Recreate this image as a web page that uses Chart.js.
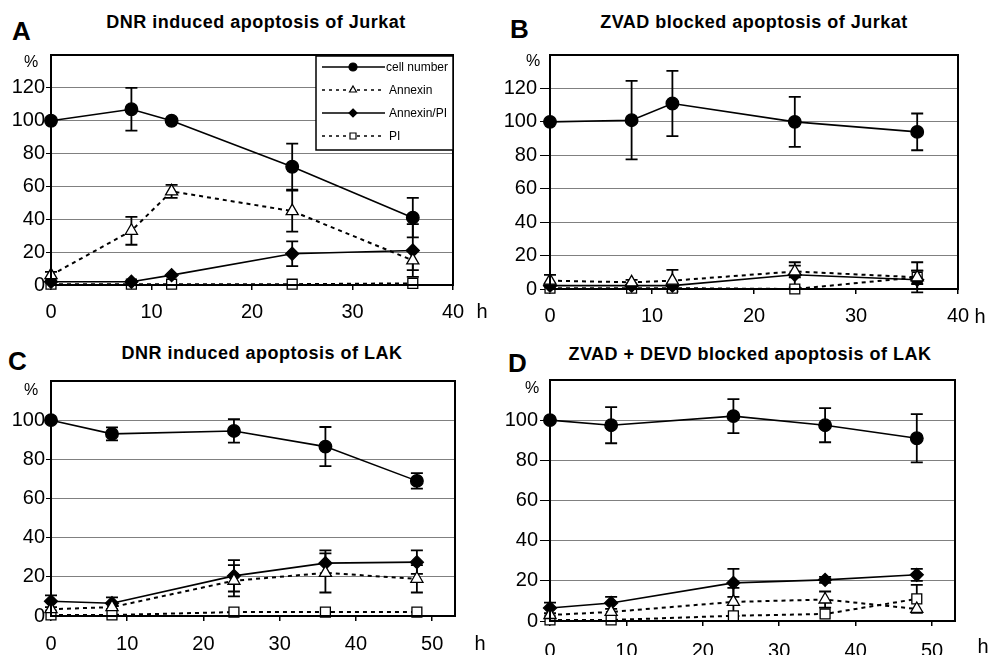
<!DOCTYPE html>
<html lang="en">
<head>
<meta charset="UTF-8">
<title>DNR induced apoptosis</title>
<script src="https://cdn.jsdelivr.net/npm/chart.js"></script>
<style>
  body { margin: 0; background: #fff; width: 989px; height: 655px; position: relative; overflow: hidden;
         font-family: "Liberation Sans", Arial, sans-serif; color: #000; }
  canvas { position: absolute; }
  .letter { position: absolute; font-weight: bold; font-size: 26px; line-height: 26px; }
  .title { position: absolute; width: 500px; text-align: center; font-weight: bold; font-size: 18px; line-height: 18px; letter-spacing: 0.5px; }
</style>
</head>
<body>
<div class="letter" style="left:12px;top:18px">A</div>
<div class="title" style="left:6px;top:13px">DNR induced apoptosis of Jurkat</div>
<div class="letter" style="left:510px;top:16px">B</div>
<div class="title" style="left:504px;top:13px">ZVAD blocked apoptosis of Jurkat</div>
<div class="letter" style="left:8px;top:348px">C</div>
<div class="title" style="left:12px;top:344px">DNR induced apoptosis of LAK</div>
<div class="letter" style="left:508px;top:350px">D</div>
<div class="title" style="left:500px;top:345px">ZVAD + DEVD blocked apoptosis of LAK</div>

<canvas id="chartA" width="490" height="330" style="left:0;top:0"></canvas>
<canvas id="chartB" width="499" height="330" style="left:490px;top:0"></canvas>
<canvas id="chartC" width="490" height="330" style="left:0;top:325px"></canvas>
<canvas id="chartD" width="499" height="330" style="left:490px;top:325px"></canvas>

<script>
// time points (h)
const hoursJurkat = [0, 8, 12, 24, 36];
const hoursLAK = [0, 8, 24, 36, 48];
const seriesNames = ['cell number', 'Annexin', 'Annexin/PI', 'PI'];

// tick labels
const xTicksJurkat = [0, 10, 20, 30, 40];
const xTicksLAK = [0, 10, 20, 30, 40, 50];
const yTicksJurkat = [0, 20, 40, 60, 80, 100, 120];
const yTicksLAK = [0, 20, 40, 60, 80, 100];

// A: DNR induced apoptosis of Jurkat
const aCell = [100, 107, 100, 72, 41];
const aCellErr = [0, 13, 0, 14, 12];
const aAnnexin = [6, 33, 57, 45, 15];
const aAnnexinErr = [2, 8.5, 4, 12.5, 6];
const aAnnexinPI = [2, 2, 6, 19, 21];
const aAnnexinPIErr = [0, 0, 0, 7.5, 16];
const aPI = [0.5, 0.5, 0.5, 0.5, 1];
const aPIErr = [0, 0, 0, 0, 0];

// B: ZVAD blocked apoptosis of Jurkat
const bCell = [100, 101, 111, 100, 94];
const bCellErr = [0, 23.5, 19.5, 15, 11];
const bAnnexin = [5, 4, 5, 10.5, 7];
const bAnnexinErr = [3.5, 1.5, 6.5, 3.5, 4];
const bAnnexinPI = [2, 2, 2, 8.5, 5.5];
const bAnnexinPIErr = [0, 0, 0, 7.5, 5.5];
const bPI = [0.5, 0.5, 0.5, 0, 7];
const bPIErr = [0, 0, 0, 0, 9];

// C: DNR induced apoptosis of LAK
const cCell = [100, 93, 94.5, 86.5, 69];
const cCellErr = [0, 3.3, 6, 10, 4];
const cAnnexin = [3.5, 4.5, 18, 22, 19];
const cAnnexinErr = [0, 0, 8, 10, 7];
const cAnnexinPI = [7.5, 6.5, 20.5, 27, 27.5];
const cAnnexinPIErr = [3, 3, 8, 6.5, 6];
const cPI = [0.5, 0.5, 2, 2, 2];
const cPIErr = [0, 0, 0, 0, 0];

// D: ZVAD + DEVD blocked apoptosis of LAK
const dCell = [100, 97.5, 102, 97.5, 91];
const dCellErr = [0, 9, 8.5, 8.5, 12];
const dAnnexin = [3, 4.5, 9.5, 10.7, 6];
const dAnnexinErr = [0, 0, 7, 4, 0];
const dAnnexinPI = [6.5, 9, 19, 20.5, 23];
const dAnnexinPIErr = [2.6, 3, 7, 1.5, 3];
const dPI = [0.5, 0.5, 2.6, 3.5, 11];
const dPIErr = [0, 0, 0, 0, 7];

const FONT = '"Liberation Sans", Arial, sans-serif';

// marker/line look of the 4 series
const seriesStyle = [
    { pointStyle: 'circle', radius: 6.3, fill: '#000', dash: [] },
    { pointStyle: 'triangle', radius: 7, fill: '#fff', dash: [4, 4] },
    { pointStyle: 'rectRot', radius: 6.5, fill: '#000', dash: [] },
    { pointStyle: 'rect', radius: 7, fill: '#fff', dash: [4, 4] }
];

function drawMarker(ctx, style, x, y, r, fill) {
    ctx.save();
    ctx.setLineDash([]);
    ctx.beginPath();
    if (style === 'circle') {
        ctx.arc(x, y, r, 0, Math.PI * 2);
    } else if (style === 'triangle') {
        ctx.moveTo(x, y - r);
        ctx.lineTo(x + r * 0.866, y + r * 0.5);
        ctx.lineTo(x - r * 0.866, y + r * 0.5);
        ctx.closePath();
    } else if (style === 'rectRot') {
        ctx.moveTo(x, y - r); ctx.lineTo(x + r, y); ctx.lineTo(x, y + r); ctx.lineTo(x - r, y);
        ctx.closePath();
    } else {
        ctx.rect(x - r * 0.75, y - r * 0.75, r * 1.5, r * 1.5);
    }
    ctx.fillStyle = fill;
    ctx.fill();
    ctx.lineWidth = 1.2;
    ctx.strokeStyle = '#000';
    ctx.stroke();
    ctx.restore();
}

// frame, error bars, "%", "h" and the legend box
const panelDecor = {
    id: 'panelDecor',
    beforeDatasetsDraw(chart) {
        const ctx = chart.ctx, yScale = chart.scales.y;
        ctx.save();
        ctx.strokeStyle = '#000';
        ctx.lineWidth = 1.8;
        ctx.setLineDash([]);
        chart.data.datasets.forEach((ds, i) => {
            const meta = chart.getDatasetMeta(i);
            ds.errors.forEach((e, j) => {
                if (!e) return;
                const v = ds.data[j].y;
                const x = meta.data[j].x;
                const top = yScale.getPixelForValue(v + e);
                const bot = yScale.getPixelForValue(v - e);
                ctx.beginPath();
                ctx.moveTo(x, top); ctx.lineTo(x, bot);
                ctx.moveTo(x - 6, top); ctx.lineTo(x + 6, top);
                ctx.moveTo(x - 6, bot); ctx.lineTo(x + 6, bot);
                ctx.stroke();
            });
        });
        ctx.restore();
    },
    afterDraw(chart, args, opts) {
        const ctx = chart.ctx, a = chart.chartArea;
        ctx.save();
        ctx.strokeStyle = '#000';
        ctx.lineWidth = 2;
        ctx.strokeRect(a.left, a.top, a.right - a.left, a.bottom - a.top);

        ctx.fillStyle = '#000';
        ctx.textBaseline = 'middle';
        ctx.textAlign = 'center';
        ctx.font = '16px ' + FONT;
        ctx.fillText('%', a.left + opts.pctDx, a.top + opts.pctDy);
        ctx.font = '20px ' + FONT;
        ctx.fillText('h', a.right + opts.hDx, a.bottom + opts.hDy);

        if (opts.legend) {
            const bx = a.right - 137, by = a.top + 1, bw = 137, bh = 94;
            ctx.fillStyle = '#fff';
            ctx.fillRect(bx, by, bw, bh);
            ctx.lineWidth = 1.5;
            ctx.strokeRect(bx, by, bw, bh);
            ctx.font = '12px ' + FONT;
            ctx.textAlign = 'left';
            chart.data.datasets.forEach((ds, i) => {
                const st = seriesStyle[i];
                const y = by + 11 + i * 23;
                ctx.beginPath();
                ctx.setLineDash(st.dash.length ? [3, 4] : []);
                ctx.lineWidth = 1.3;
                ctx.moveTo(bx + 6, y);
                ctx.lineTo(bx + 69, y);
                ctx.stroke();
                drawMarker(ctx, st.pointStyle, bx + 37, y, 4, st.fill);
                ctx.fillStyle = '#000';
                ctx.fillText(ds.label, bx + (i === 0 ? 70 : 73), y + 1);
            });
        }
        ctx.restore();
    }
};

function makeChart(id, hours, values, errors, cfg) {
    const datasets = values.map((vals, i) => {
        const st = seriesStyle[i];
        return {
            label: seriesNames[i],
            data: vals.map((v, j) => ({ x: hours[j], y: v })),
            errors: errors[i],
            borderColor: '#000',
            borderWidth: st.dash.length ? 2 : 1.6,
            borderDash: st.dash,
            pointStyle: st.pointStyle,
            pointRadius: st.radius,
            pointBackgroundColor: st.fill,
            pointBorderColor: '#000',
            pointBorderWidth: 1.3,
            tension: 0,
            fill: false,
            clip: false
        };
    });
    return new Chart(document.getElementById(id), {
        type: 'line',
        data: { datasets: datasets },
        plugins: [panelDecor],
        options: {
            responsive: false,
            animation: false,
            layout: { padding: { top: cfg.padTop, right: cfg.padRight, left: 0, bottom: 0 } },
            scales: {
                x: {
                    type: 'linear', min: 0, max: cfg.xMax,
                    afterBuildTicks: s => { s.ticks = cfg.xTicks.map(v => ({ value: v })); },
                    afterFit: s => { s.height = cfg.xHeight; },
                    ticks: { font: { family: FONT, size: 20 }, color: '#000', padding: cfg.xPad, maxRotation: 0 },
                    grid: { drawOnChartArea: false, tickLength: 5, tickColor: '#000', lineWidth: 1.5 },
                    border: { display: false }
                },
                y: {
                    type: 'linear', min: 0, max: cfg.yMax,
                    afterBuildTicks: s => { s.ticks = cfg.yTicks.map(v => ({ value: v })); },
                    afterFit: s => { s.width = cfg.yWidth; },
                    ticks: { font: { family: FONT, size: 20 }, color: '#000', padding: cfg.yPad },
                    grid: { color: '#808080', lineWidth: 1, tickLength: cfg.yTick, tickColor: '#000' },
                    border: { display: false }
                }
            },
            plugins: {
                legend: { display: false },
                tooltip: { enabled: false },
                panelDecor: { legend: !!cfg.legend, pctDx: cfg.pctDx, pctDy: cfg.pctDy, hDx: cfg.hDx, hDy: cfg.hDy }
            }
        }
    });
}

makeChart('chartA', hoursJurkat, [aCell, aAnnexin, aAnnexinPI, aPI], [aCellErr, aAnnexinErr, aAnnexinPIErr, aPIErr], {
    xMax: 40, xTicks: xTicksJurkat, yMax: 140, yTicks: yTicksJurkat,
    yWidth: 51, xHeight: 45, padTop: 55, padRight: 37, yTick: 5, yPad: 1, xPad: 10,
    pctDx: -20, pctDy: 8, hDx: 29, hDy: 27, legend: true
});
makeChart('chartB', hoursJurkat, [bCell, bAnnexin, bAnnexinPI, bPI], [bCellErr, bAnnexinErr, bAnnexinPIErr, bPIErr], {
    xMax: 40, xTicks: xTicksJurkat, yMax: 140, yTicks: yTicksJurkat,
    yWidth: 60, xHeight: 41, padTop: 55, padRight: 31, yTick: 10, yPad: 3, xPad: 10,
    pctDx: -17, pctDy: 7, hDx: 22, hDy: 28
});
makeChart('chartC', hoursLAK, [cCell, cAnnexin, cAnnexinPI, cPI], [cCellErr, cAnnexinErr, cAnnexinPIErr, cPIErr], {
    xMax: 53, xTicks: xTicksLAK, yMax: 120, yTicks: yTicksLAK,
    yWidth: 51, xHeight: 39, padTop: 56, padRight: 35, yTick: 5, yPad: 1, xPad: 11,
    pctDx: -20, pctDy: 10, hDx: 25, hDy: 28
});
makeChart('chartD', hoursLAK, [dCell, dAnnexin, dAnnexinPI, dPI], [dCellErr, dAnnexinErr, dAnnexinPIErr, dPIErr], {
    xMax: 53, xTicks: xTicksLAK, yMax: 120, yTicks: yTicksLAK,
    yWidth: 60, xHeight: 34, padTop: 55, padRight: 34, yTick: 10, yPad: 2, xPad: 13,
    pctDx: -18, pctDy: 9, hDx: 28, hDy: 26
});
</script>
</body>
</html>
